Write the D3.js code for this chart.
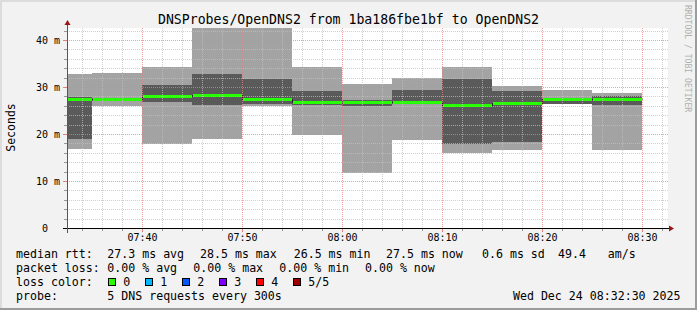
<!DOCTYPE html>
<html>
<head>
<meta charset="utf-8">
<script src="https://cdn.jsdelivr.net/npm/d3@7"></script>
<style>
  html, body { margin: 0; padding: 0; background: #f2f2f2; }
  svg { display: block; }
  text { font-family: "DejaVu Sans Mono", monospace; fill: #000; white-space: pre; }
</style>
</head>
<body>
<svg id="chart" width="697" height="310"></svg>
<script>
// 5 minute steps, the first one is cut by the start of the graph
const stepTimes = ["07:32:30", "07:35:00", "07:40:00", "07:45:00", "07:50:00", "07:55:00", "08:00:00",
                   "08:05:00", "08:10:00", "08:15:00", "08:20:00", "08:25:00", "08:30:00"];

// sorted ping times (ms) per step: min, 2nd, median, 4th, max
const ping1  = [16.9, 25.9, 17.9, 18.9, 25.9, 19.8, 11.8, 18.8, 15.9, 16.5, 26.3, 16.5];
const ping2  = [18.9, 27.1, 26.9, 26.2, 26.4, 26.2, 25.9, 26.4, 17.9, 18.4, 26.4, 26.2];
const median = [27.4, 27.4, 28.0, 28.4, 27.4, 26.9, 26.9, 26.9, 26.2, 26.5, 27.4, 27.4];
const ping4  = [27.9, 27.7, 30.5, 32.8, 31.8, 29.2, 27.2, 29.4, 31.8, 29.2, 27.6, 28.0];
const ping5  = [32.8, 33.0, 34.3, 45.0, 45.0, 34.3, 30.7, 32.0, 34.3, 30.3, 29.4, 28.8];

const yTicks = [0, 10, 20, 30, 40];
const xTicks = ["07:40", "07:50", "08:00", "08:10", "08:20", "08:30"];

const title = "DNSProbes/OpenDNS2 from 1ba186fbe1bf to OpenDNS2";
const rttLegend = ["27.3 ms avg", "28.5 ms max", "26.5 ms min", "27.5 ms now", "0.6 ms sd", "49.4", "am/s"];
const lossLegend = ["0.00 % avg", "0.00 % max", "0.00 % min", "0.00 % now"];
const lossLabels = ["0", "1", "2", "3", "4", "5/5"];
const lossColors = ["#26ff00", "#00b8ff", "#0059ff", "#7e00ff", "#ff0000", "#a10000"];
const probeText = "5 DNS requests every 300s";
const stampText = "Wed Dec 24 08:32:30 2025";

const W = 697, H = 310;
const pLeft = 67, pRight = 667, pTop = 28, pBottom = 228;

const parseT = d3.timeParse("%H:%M:%S");

const svg = d3.select("#chart");

const x = d3.scaleTime()
  .domain([parseT("07:32:30"), parseT("08:32:30")])
  .range([pLeft, pRight]);
const y = d3.scaleLinear()
  .domain([0, 42.55])
  .range([pBottom, pTop]);

const steps = median.map((m, i) => ({
  t0: parseT(stepTimes[i]),
  t1: parseT(stepTimes[i + 1]),
  p1: ping1[i], p2: ping2[i], p3: m, p4: ping4[i], p5: ping5[i]
}));

// canvas + frame
svg.append("rect").attr("width", W).attr("height", H).attr("fill", "#f2f2f2");
svg.append("rect").attr("x", 0).attr("y", 0).attr("width", W).attr("height", 2).attr("fill", "#dcdcdc");
svg.append("rect").attr("x", 0).attr("y", 0).attr("width", 2).attr("height", H).attr("fill", "#dcdcdc");
svg.append("rect").attr("x", W - 2).attr("y", 0).attr("width", 2).attr("height", H).attr("fill", "#9c9c9c");
svg.append("rect").attr("x", 0).attr("y", H - 2).attr("width", W).attr("height", 2).attr("fill", "#9c9c9c");

// plot background
svg.append("rect")
  .attr("x", pLeft).attr("y", pTop)
  .attr("width", pRight - pLeft + 1).attr("height", pBottom - pTop)
  .attr("fill", "#fff");

svg.append("clipPath").attr("id", "plotclip")
  .append("rect").attr("x", pLeft).attr("y", pTop)
  .attr("width", pRight - pLeft + 1).attr("height", pBottom - pTop);

const plot = svg.append("g").attr("clip-path", "url(#plotclip)");

// smoke: outer band (min..max) and inner band (2nd..4th)
plot.selectAll("rect.outer")
  .data(steps)
  .enter()
  .append("rect")
    .attr("class", "outer")
    .attr("x", d => Math.round(x(d.t0)))
    .attr("width", d => Math.round(x(d.t1)) - Math.round(x(d.t0)))
    .attr("y", d => Math.round(y(d.p5)))
    .attr("height", d => Math.round(y(d.p1)) - Math.round(y(d.p5)))
    .attr("fill", "#a3a3a3");

plot.selectAll("rect.inner")
  .data(steps)
  .enter()
  .append("rect")
    .attr("class", "inner")
    .attr("x", d => Math.round(x(d.t0)))
    .attr("width", d => Math.round(x(d.t1)) - Math.round(x(d.t0)))
    .attr("y", d => Math.round(y(d.p4)))
    .attr("height", d => Math.round(y(d.p2)) - Math.round(y(d.p4)))
    .attr("fill", "#5a5a5a");

// median: thin dark step line, then the loss-coloured bar on top
const medLine = d3.line()
  .x(d => Math.round(x(d.t)) + 0.5)
  .y(d => Math.round(y(d.v)) + 0.5)
  .curve(d3.curveStepAfter);
const medPts = steps.map(d => ({t: d.t0, v: d.p3}));
medPts.push({t: steps[steps.length - 1].t1, v: steps[steps.length - 1].p3});
plot.append("path")
  .attr("d", medLine(medPts))
  .attr("fill", "none")
  .attr("stroke", "#1a1a1a")
  .attr("stroke-width", 1);

plot.selectAll("rect.med")
  .data(steps)
  .enter()
  .append("rect")
    .attr("class", "med")
    .attr("x", d => Math.round(x(d.t0)) + 1)
    .attr("width", d => Math.round(x(d.t1)) - Math.round(x(d.t0)) - 1)
    .attr("y", d => Math.round(y(d.p3)) - 1)
    .attr("height", 3)
    .attr("fill", lossColors[0]);

// grid on top of data, dotted like rrdtool
const grid = svg.append("g").attr("shape-rendering", "crispEdges");
const minorX = x.ticks(d3.timeMinute.every(2));
const majorX = xTicks.map(s => parseT(s + ":00"));
const majorXpos = majorX.map(d => Math.round(x(d)));
const minorY = d3.range(2, 43, 2);

grid.selectAll("line.gx")
  .data(minorX.filter(d => !majorXpos.includes(Math.round(x(d)))))
  .enter().append("line")
    .attr("x1", d => Math.round(x(d)) + 0.5).attr("x2", d => Math.round(x(d)) + 0.5)
    .attr("y1", pTop).attr("y2", pBottom)
    .attr("stroke", "rgba(192,192,192,0.75)").attr("stroke-dasharray", "1,1");
grid.selectAll("line.gy")
  .data(minorY.filter(v => !yTicks.includes(v)))
  .enter().append("line")
    .attr("x1", pLeft).attr("x2", pRight + 1)
    .attr("y1", d => Math.round(y(d)) + 0.5).attr("y2", d => Math.round(y(d)) + 0.5)
    .attr("stroke", "rgba(192,192,192,0.75)").attr("stroke-dasharray", "1,1");
grid.selectAll("line.mx")
  .data(majorX)
  .enter().append("line")
    .attr("x1", d => Math.round(x(d)) + 0.5).attr("x2", d => Math.round(x(d)) + 0.5)
    .attr("y1", pTop).attr("y2", pBottom)
    .attr("stroke", "rgba(230,128,128,0.75)").attr("stroke-dasharray", "1,1");
grid.selectAll("line.my")
  .data(yTicks.filter(v => v > 0))
  .enter().append("line")
    .attr("x1", pLeft).attr("x2", pRight + 1)
    .attr("y1", d => Math.round(y(d)) + 0.5).attr("y2", d => Math.round(y(d)) + 0.5)
    .attr("stroke", "rgba(230,128,128,0.75)").attr("stroke-dasharray", "1,1");

// axes
const xAxis = d3.axisBottom(x)
  .tickValues(majorX)
  .tickFormat(d3.timeFormat("%H:%M"))
  .tickSize(0)
  .tickPadding(0);
const gx = svg.append("g").attr("transform", `translate(0,${pBottom})`).call(xAxis);
gx.select(".domain").remove();
gx.selectAll("text")
  .attr("y", 12.7).attr("dy", null)
  .attr("font-size", "10px").attr("font-family", "DejaVu Sans Mono")
  .attr("fill", "#000");

const yAxis = d3.axisLeft(y)
  .tickValues(yTicks)
  .tickFormat(d => d === 0 ? "0  " : d + " m")
  .tickSize(0)
  .tickPadding(0);
const gy = svg.append("g").attr("transform", `translate(${pLeft - 7},0)`).call(yAxis);
gy.select(".domain").remove();
gy.selectAll("text")
  .attr("x", 0).attr("dy", "0.36em")
  .attr("font-size", "10px").attr("font-family", "DejaVu Sans Mono")
  .attr("fill", "#000");

// small axis ticks
const ticks = svg.append("g").attr("shape-rendering", "crispEdges");
ticks.selectAll("line.tx")
  .data(minorX)
  .enter().append("line")
    .attr("x1", d => Math.round(x(d)) + 0.5).attr("x2", d => Math.round(x(d)) + 0.5)
    .attr("y1", pBottom).attr("y2", d => majorXpos.includes(Math.round(x(d))) ? pBottom + 4 : pBottom + 3)
    .attr("stroke", d => majorXpos.includes(Math.round(x(d))) ? "#e08080" : "#999");
ticks.selectAll("line.ty")
  .data(minorY.concat([0]))
  .enter().append("line")
    .attr("x1", d => yTicks.includes(d) ? pLeft - 4 : pLeft - 3).attr("x2", pLeft)
    .attr("y1", d => Math.round(y(d)) + 0.5).attr("y2", d => Math.round(y(d)) + 0.5)
    .attr("stroke", d => yTicks.includes(d) ? "#e08080" : "#999");

ticks.append("line")
  .attr("x1", pLeft - 4).attr("x2", pRight + 2)
  .attr("y1", pBottom + 0.5).attr("y2", pBottom + 0.5)
  .attr("stroke", "#000");
ticks.append("line")
  .attr("x1", pLeft + 0.5).attr("x2", pLeft + 0.5)
  .attr("y1", pTop - 4).attr("y2", pBottom + 5)
  .attr("stroke", "#555");

// arrows
svg.append("path")
  .attr("d", `M${pRight + 2},${pBottom - 2.5} L${pRight + 7},${pBottom + 0.5} L${pRight + 2},${pBottom + 3.5} Z`)
  .attr("fill", "#9a1414");
svg.append("path")
  .attr("d", `M${pLeft - 2.5},${pTop - 3} L${pLeft + 0.5},${pTop - 8} L${pLeft + 3.5},${pTop - 3} Z`)
  .attr("fill", "#9a1414");

// title and labels
svg.append("text")
  .attr("x", W / 2).attr("y", 24)
  .attr("text-anchor", "middle")
  .attr("font-size", "13.2px")
  .text(title);

svg.append("text")
  .attr("transform", "translate(14.5,127.5) rotate(-90)")
  .attr("text-anchor", "middle")
  .attr("font-size", "11.5px")
  .text("Seconds");

svg.append("text")
  .attr("transform", "translate(684.5,5) rotate(90)")
  .attr("font-size", "8.1px")
  .style("fill", "#b0b0b0")
  .text("RRDTOOL / TOBI OETIKER");

// legend
const legend = svg.append("g").attr("font-size", "11.6px");
const row = [257.5, 271.5, 285.5, 299.5];
const col0 = 16, col1 = 107.3;

legend.append("text").attr("x", col0).attr("y", row[0]).text("median rtt:");
const rttX = [col1, 200, 293.7, 386, 482, 558, 607.7];
legend.selectAll("text.rtt")
  .data(rttLegend)
  .enter().append("text")
    .attr("class", "rtt")
    .attr("x", (d, i) => rttX[i]).attr("y", row[0])
    .text(d => d);

legend.append("text").attr("x", col0).attr("y", row[1]).text("packet loss:");
const lossX = [col1, 193.3, 279.3, 365];
legend.selectAll("text.loss")
  .data(lossLegend)
  .enter().append("text")
    .attr("class", "loss")
    .attr("x", (d, i) => lossX[i]).attr("y", row[1])
    .text(d => d);

legend.append("text").attr("x", col0).attr("y", row[2]).text("loss color:");
const swatch = legend.selectAll("g.sw")
  .data(lossLabels)
  .enter().append("g")
    .attr("class", "sw")
    .attr("transform", (d, i) => `translate(${108.5 + i * 37},0)`);
swatch.append("rect")
  .attr("x", 0).attr("y", 278.5)
  .attr("width", 7).attr("height", 7)
  .attr("fill", (d, i) => lossColors[i])
  .attr("stroke", "#000").attr("stroke-width", 1);
swatch.append("text")
  .attr("x", 14.8).attr("y", row[2])
  .text(d => d);

legend.append("text").attr("x", col0).attr("y", row[3]).text("probe:");
legend.append("text").attr("x", col1).attr("y", row[3]).text(probeText);
legend.append("text").attr("x", 680.5).attr("y", row[3]).attr("text-anchor", "end").text(stampText);
</script>
</body>
</html>
